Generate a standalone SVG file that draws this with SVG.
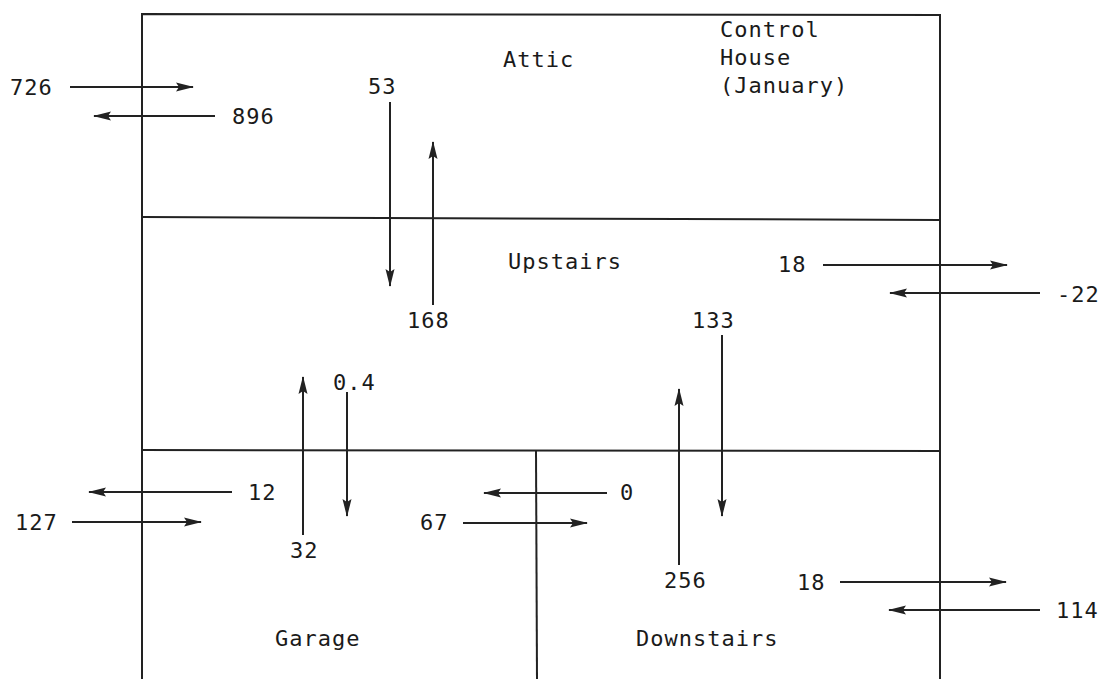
<svg xmlns="http://www.w3.org/2000/svg" width="1102" height="679" viewBox="0 0 1102 679">
  <defs>
    <marker id="ah" viewBox="0 0 18 10" refX="17" refY="5" markerWidth="18" markerHeight="10" markerUnits="userSpaceOnUse" orient="auto">
      <path d="M0,0.5 L18,5 L0,9.5 L3,5 Z" fill="#222"/>
    </marker>
  </defs>
  <style>
    .wall { fill: none; stroke: #222; stroke-width: 2; }
    .flow { fill: none; stroke: #222; stroke-width: 2; marker-end: url(#ah); }
    text { font-family: "DejaVu Sans Mono", "Liberation Mono", monospace; font-size: 22px; fill: #1a1a1a; letter-spacing: 1px; }
  </style>
  <rect width="1102" height="679" fill="#fff"/>

  <!-- house outline and room partitions -->
  <g id="house">
    <path class="wall" d="M142,679 L142,14 L940,15 L940,679"/>
    <line class="wall" x1="142" y1="217" x2="940" y2="220"/>
    <line class="wall" x1="142" y1="450" x2="940" y2="451"/>
    <line class="wall" x1="536" y1="450" x2="537" y2="679"/>
  </g>

  <g id="attic"><text x="503" y="67">Attic</text></g>
  <g id="title">
    <text x="720" y="37">Control</text>
    <text x="720" y="65">House</text>
    <text x="720" y="93">(January)</text>
  </g>
  <g id="upstairs"><text x="508" y="269">Upstairs</text></g>
  <g id="garage"><text x="275" y="646">Garage</text></g>
  <g id="downstairs"><text x="636" y="646">Downstairs</text></g>

  <!-- heat flows -->
  <g id="connectors">
    <line class="flow" x1="70" y1="87" x2="193" y2="87"/>
    <line class="flow" x1="215" y1="116" x2="94" y2="116"/>
    <line class="flow" x1="390" y1="102" x2="390" y2="286"/>
    <line class="flow" x1="433" y1="305" x2="433" y2="142"/>
    <line class="flow" x1="823" y1="265" x2="1007" y2="265"/>
    <line class="flow" x1="1040" y1="293" x2="890" y2="293"/>
    <line class="flow" x1="722" y1="335" x2="722" y2="516"/>
    <line class="flow" x1="347" y1="392" x2="347" y2="516"/>
    <line class="flow" x1="303" y1="535" x2="303" y2="377"/>
    <line class="flow" x1="679" y1="565" x2="679" y2="389"/>
    <line class="flow" x1="232" y1="492" x2="89" y2="492"/>
    <line class="flow" x1="72" y1="522" x2="201" y2="522"/>
    <line class="flow" x1="607" y1="493" x2="484" y2="493"/>
    <line class="flow" x1="463" y1="523" x2="587" y2="523"/>
    <line class="flow" x1="840" y1="582" x2="1006" y2="582"/>
    <line class="flow" x1="1040" y1="610" x2="889" y2="610"/>
  </g>

  <g id="values">
    <text x="10" y="95">726</text>
    <text x="232" y="124">896</text>
    <text x="368" y="94">53</text>
    <text x="407" y="328">168</text>
    <text x="778" y="272">18</text>
    <text x="1057" y="302">-22</text>
    <text x="692" y="328">133</text>
    <text x="333" y="390">0.4</text>
    <text x="290" y="558">32</text>
    <text x="664" y="588">256</text>
    <text x="248" y="500">12</text>
    <text x="15" y="530">127</text>
    <text x="620" y="500">0</text>
    <text x="420" y="530">67</text>
    <text x="797" y="590">18</text>
    <text x="1056" y="618">114</text>
  </g>
</svg>
